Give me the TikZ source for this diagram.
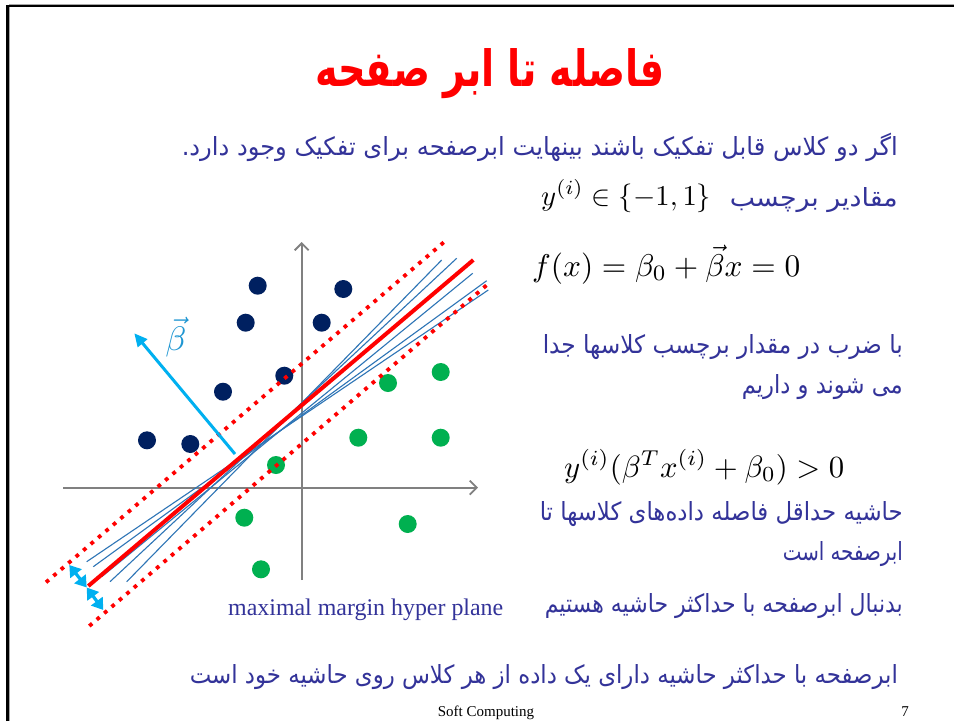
\documentclass[tikz,border=0pt]{standalone}
\usepackage{fontspec}
\usepackage{graphicx}
\setmainfont{Liberation Serif}
\newfontfamily\fafont[Script=Arabic]{DejaVu Sans}
\TeXXeTstate=1
\usetikzlibrary{arrows.meta}
\definecolor{txtnavy}{RGB}{51,51,153}
\definecolor{dotnavy}{RGB}{0,32,96}
\definecolor{dotgreen}{RGB}{0,176,80}
\definecolor{axisgray}{RGB}{128,128,128}
\definecolor{thinblue}{RGB}{46,117,182}
\definecolor{cyanarrow}{RGB}{0,176,240}
\definecolor{betalabel}{RGB}{30,150,210}
\newcommand{\fa}[2]{\resizebox{#1}{\height}{\fafont #2}}
\tikzset{
  fatext/.style={inner sep=0pt, text=txtnavy, font=\fontsize{25}{30}\selectfont, anchor=base east},
  ddot/.style={circle, fill=dotnavy, minimum size=18pt, inner sep=0pt},
  gdot/.style={circle, fill=dotgreen, minimum size=18pt, inner sep=0pt},
  axisline/.style={draw=axisgray, line width=1.8pt, -{Straight Barb[length=7pt,width=14pt]}},
  thinline/.style={draw=thinblue, line width=1.1pt},
  redsolid/.style={draw=red, line width=4pt},
  reddotted/.style={draw=red, line width=3.8pt, dash pattern=on 3.8pt off 6pt},
  cyanarr/.style={draw=cyanarrow, line width=3pt, -{Triangle[length=13pt,width=12pt]}},
  marginarr/.style={draw=cyanarrow, line width=3.2pt, {Triangle[length=11pt,width=14pt]}-{Triangle[length=11pt,width=14pt]}},
  mathnode/.style={inner sep=0pt, anchor=base west}
}
\begin{document}
\begin{tikzpicture}[x=1pt,y=-1pt]
\useasboundingbox[fill=white] (0,0) rectangle (954,721);
% frame
\coordinate (fTL) at (7.8,6);
\coordinate (fTR) at (954,6);
\coordinate (fBL) at (7.8,721);
\draw[black!35, line width=1pt] (9.6,721) -- (9.6,4.3) -- (954,4.3);
\draw[black, line width=2.8pt] (fBL) -- (fTL) -- (fTR);
% title
\node[inner sep=0pt, text=red, anchor=base, font=\fontsize{50}{56}\bfseries] (title) at (490,86)
  {\fa{350pt}{\beginR فاصله تا ابر صفحه\endR}};
% texts
\node[fatext] (l1) at (898,155) {\fa{716pt}{\beginR اگر دو کلاس قابل تفکیک باشند بینهایت ابرصفحه برای تفکیک وجود دارد.\endR}};
\node[fatext] (l2) at (898,206) {\fa{168pt}{\beginR مقادیر برچسب\endR}};
\node[fatext] (l3) at (903,353) {\fa{360pt}{\beginR با ضرب در مقدار برچسب کلاسها جدا\endR}};
\node[fatext] (l4) at (903,393) {\fa{161pt}{\beginR می شوند و  داریم\endR}};
\node[fatext] (l5) at (903,520) {\fa{363pt}{\beginR حاشیه حداقل فاصله داده‌های کلاسها تا\endR}};
\node[fatext] (l6) at (903,560) {\fa{120pt}{\beginR ابرصفحه است\endR}};
\node[fatext] (l7) at (903,612) {\fa{358pt}{\beginR بدنبال ابرصفحه با حداکثر حاشیه هستیم\endR}};
\node[fatext] (l8) at (898,683) {\fa{708pt}{\beginR ابرصفحه با حداکثر حاشیه دارای یک داده از هر کلاس روی حاشیه خود است\endR}};
% math
\node[mathnode] (m1) at (541,205) {\resizebox{170pt}{!}{$y^{(i)}\in\left\{-1,1\right\}$}};
\node[mathnode] (m2) at (532,276) {\resizebox{268pt}{!}{$f(x)=\beta_0+\vec{\beta}x=0$}};
\node[mathnode] (m3) at (564,477) {\resizebox{280pt}{!}{$y^{(i)}(\beta^T x^{(i)}+\beta_0)>0$}};
% footer
\node[inner sep=0pt, anchor=base, font=\fontsize{15}{18}\selectfont] (foot) at (486,716) {Soft Computing};
\node[inner sep=0pt, anchor=base, font=\fontsize{15}{18}\selectfont] (pnum) at (905,716) {7};
% axes
\coordinate (xa0) at (63,487.7);
\coordinate (xa1) at (478,487.7);
\coordinate (ya0) at (301.7,580);
\coordinate (ya1) at (301.7,242);
\draw[axisline] (xa0) -- (xa1);
\draw[axisline] (ya0) -- (ya1);
% dots
\node[ddot] (d1) at (257.7,285.7) {};
\node[ddot] (d2) at (343.3,289) {};
\node[ddot] (d3) at (245.7,322.7) {};
\node[ddot] (d4) at (321.7,322.7) {};
\node[ddot] (d5) at (284.3,375.7) {};
\node[ddot] (d6) at (223,391.7) {};
\node[ddot] (d7) at (147,440.3) {};
\node[ddot] (d8) at (190.3,444) {};
\node[gdot] (g1) at (440.7,372) {};
\node[gdot] (g2) at (388,383) {};
\node[gdot] (g3) at (358.3,437.7) {};
\node[gdot] (g4) at (440.7,437.7) {};
\node[gdot] (g5) at (276,465) {};
\node[gdot] (g6) at (244.3,517.7) {};
\node[gdot] (g7) at (407.7,524) {};
\node[gdot] (g8) at (261,569.3) {};
% thin candidate lines
\coordinate (t1a) at (126.7,581.7); \coordinate (t1b) at (441.7,260);
\coordinate (t2a) at (110,581.7);   \coordinate (t2b) at (456.7,258.3);
\coordinate (t3a) at (101.7,576.7); \coordinate (t3b) at (472.7,273.3);
\coordinate (t4a) at (93.3,566.7);  \coordinate (t4b) at (486.7,280.7);
\coordinate (t5a) at (86.7,561.7);  \coordinate (t5b) at (488.3,290);
\foreach \i in {1,...,5} {\draw[thinline] (t\i a) -- (t\i b);}
% margins
\coordinate (ua) at (46,582.3);  \coordinate (ub) at (447.3,239.3);
\coordinate (la) at (89.3,626);  \coordinate (lb) at (490.7,281.7);
\draw[reddotted] (ua) -- (ub);
\draw[reddotted] (la) -- (lb);
\coordinate (ra) at (88.3,586);  \coordinate (rb) at (473.3,260);
\draw[redsolid] (ra) -- (rb);
% beta arrow
\coordinate (b0) at (235,454);
\coordinate (b1) at (134.3,333.3);
\draw[cyanarr] (b0) -- (b1);
\node[inner sep=0pt, text=betalabel] (blabel) at (176,337) {\scalebox{3.4}{$\vec{\beta}$}};
% margin arrows
\coordinate (m0) at (69.3,565);
\coordinate (mm) at (86.7,587.5);
\coordinate (m9) at (103.3,610);
\draw[marginarr] (m0) -- (mm);
\draw[marginarr] (mm) -- (m9);
% label
\node[inner sep=0pt, anchor=base west, text=txtnavy] (mmh) at (228,615) {\resizebox{275pt}{!}{maximal margin hyper plane}};
\end{tikzpicture}
\end{document}
